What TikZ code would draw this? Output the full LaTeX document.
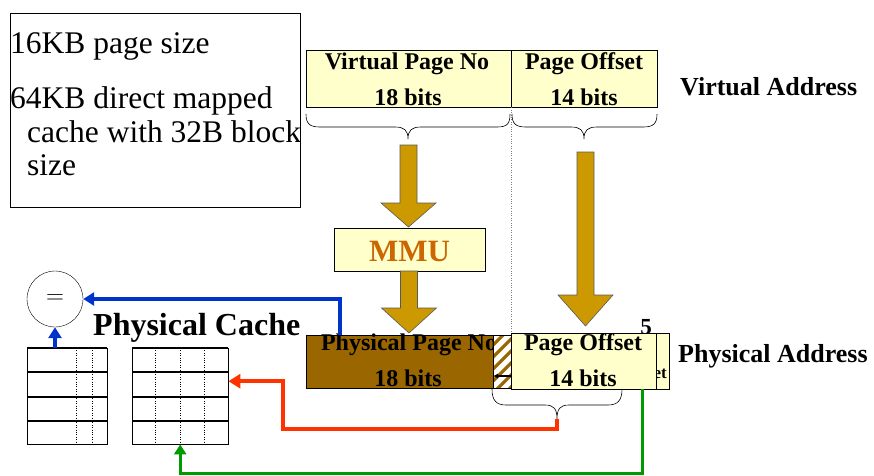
\documentclass[tikz,border=0pt]{standalone}
\usepackage{fontspec}
\setmainfont{Liberation Serif}
\usetikzlibrary{arrows.meta}

\definecolor{paleyellow}{HTML}{FFFFCC}
\definecolor{gold}{HTML}{CC9900}
\definecolor{ppnbrown}{HTML}{996600}
\definecolor{mmuorange}{HTML}{CC6600}
\definecolor{redwire}{HTML}{FF3300}
\definecolor{bluewire}{HTML}{0033CC}
\definecolor{greenwire}{HTML}{009900}

\tikzset{
  field/.style={draw, fill=paleyellow, inner sep=0pt},
  fieldtext/.style={font=\fontsize{24}{24}\selectfont\bfseries, inner sep=0pt, anchor=base},
  addrtext/.style={font=\fontsize{26}{26}\selectfont\bfseries, inner sep=0pt, anchor=base west},
  notetext/.style={font=\fontsize{31.5}{31.5}\selectfont, inner sep=0pt, anchor=base west},
  bigarrow/.style={fill=gold, draw=black!65, line width=0.6pt},
  brace/.style={draw, line width=0.6pt},
  row/.style={line width=1.6pt},
}

\begin{document}
\begin{tikzpicture}[x=1pt,y=-1pt]
\useasboundingbox (0,0) rectangle (874,475);

% notes
\node[draw, minimum width=290, minimum height=194, anchor=north west] (notes) at (10,13) {};
\node[notetext] (note1) at (10,53) {16KB page size};
\node[notetext] (note2) at (10,108) {64KB direct mapped};
\node[notetext] (note3) at (27,142) {cache with 32B block};
\node[notetext] (note4) at (27,175) {size};

% virtual address
\node[field, minimum width=205, minimum height=57, anchor=north west] (vpn) at (306,50) {};
\node[field, minimum width=146, minimum height=57, anchor=north west] (vpo) at (511,50) {};
\node[fieldtext] (vpnname) at (407,69) {Virtual Page No};
\node[fieldtext] (vpnbits) at (408,105) {18 bits};
\node[fieldtext] (vponame) at (584,69) {Page Offset};
\node[fieldtext] (vpobits) at (584,105) {14 bits};
\node[addrtext] (vaddr) at (680,95) {Virtual Address};

\draw[brace] (306,114) .. controls (306,124) and (310,127) .. (320,127) -- (395,127)
  .. controls (404,127) and (408,130) .. (408,139) .. controls (408,130) and (412,127) .. (421,127)
  -- (497,127) .. controls (507,127) and (510,124) .. (510,114);
\draw[brace] (512,114) .. controls (512,124) and (516,127) .. (526,127) -- (571,127)
  .. controls (580,127) and (584,130) .. (584,139) .. controls (584,130) and (588,127) .. (597,127)
  -- (643,127) .. controls (653,127) and (657,124) .. (657,114);

% MMU
\node[field, minimum width=151, minimum height=43, anchor=north west] (mmu) at (334,228) {};
\node[font=\fontsize{31}{31}\selectfont\bfseries, text=mmuorange, inner sep=0pt, anchor=base] (mmuname) at (409.5,261) {MMU};

% big arrows
\foreach \cx/\top/\head/\tip in {408.5/145/203/227, 409/271/308/333, 585.5/152/295/326}
  \filldraw[bigarrow] (\cx-8.5,\top) -- (\cx+8.5,\top) -- (\cx+8.5,\head) -- (\cx+27.5,\head)
    -- (\cx,\tip) -- (\cx-27.5,\head) -- (\cx-8.5,\head) -- cycle;

% physical address
\node[field, minimum width=40, minimum height=56, anchor=north east] (ghost) at (669,333) {};
\node[font=\fontsize{17}{17}\selectfont\bfseries, inner sep=0pt, anchor=base east] (ghosttext) at (667,378) {et};
\node[font=\fontsize{23}{23}\selectfont\bfseries, inner sep=0pt, anchor=base] (five) at (646,334) {5};
\node[draw, fill=ppnbrown, minimum width=187, minimum height=53, inner sep=0pt, anchor=north west] (ppn) at (306,335) {};
\node[fieldtext] (ppnname) at (409,350) {Physical Page No};
\node[fieldtext] (ppnbits) at (408,386) {18 bits};
\begin{scope}
\clip (493,335) rectangle (512,388);
\fill[white] (493,335) rectangle (512,388);
\foreach \k in {0,...,6}
  \draw[ppnbrown, line width=3.2] (493,333+12*\k) -- ++(30,-30);
\end{scope}
\node[draw, minimum width=19, minimum height=53, inner sep=0pt, anchor=north west] (shift) at (493,335) {};
\node[field, minimum width=145, minimum height=56, anchor=north west] (ppo) at (511,333) {};
\node[fieldtext] (pponame) at (583,350) {Page Offset};
\node[fieldtext] (ppobits) at (583,386) {14 bits};
\draw[-{Latex[length=5,width=5]}, line width=1.2pt] (shift.east |- 0,376) -- (shift.west |- 0,376);
\node[addrtext] (paddr) at (678,362) {Physical Address};

\draw[dotted, gray] (vpo.south west) -- (ppo.north west);

\draw[brace] (492,389) .. controls (492,400) and (496,405) .. (506,405) -- (545,405)
  .. controls (554,405) and (557,409) .. (557,419) .. controls (557,409) and (560,405) .. (569,405)
  -- (608,405) .. controls (618,405) and (622,400) .. (622,389);
\coordinate (btip) at (557,419);

% physical cache
\node[font=\fontsize{32}{32}\selectfont\bfseries, inner sep=0pt, anchor=base west] (cachename) at (93,335) {Physical Cache};
\node[circle, draw, minimum size=56, inner sep=0pt, font=\fontsize{28}{28}\selectfont] (cmp) at (55,299) {$=$};
\node[draw, minimum width=80, minimum height=96, anchor=north west] (tagarr) at (27,348) {};
\node[draw, minimum width=96, minimum height=96, anchor=north west] (dataarr) at (132,348) {};
\foreach \y in {348,372,397,421}
{
  \draw[row] (27,\y) -- (107,\y);
  \draw[row] (132,\y) -- (228,\y);
}
\foreach \x in {76,92}
  \draw[dotted] (\x,348) -- (\x,444);
\foreach \x in {155,180,204}
  \draw[dotted] (\x,348) -- (\x,444);

% wires
\coordinate (tagtap) at (340,335);
\draw[bluewire, line width=3.5, -{Triangle[length=11,width=13]}] (tagtap) |- (cmp.east);
\draw[bluewire, line width=3.5, -{Triangle[length=11,width=13]}] (cmp.south |- tagarr.north) -- (cmp.south);
\coordinate (redlow) at (283,429);
\draw[redwire, line width=4, -{Triangle[length=12,width=14]}] (btip) |- (redlow) |- ([yshift=15pt]dataarr.east);
\coordinate (greentap) at (642,389);
\coordinate (greenlow) at (642,473);
\draw[greenwire, line width=3, -{Triangle[length=10,width=12]}] (greentap) -- (greenlow) -| (dataarr.south);

\end{tikzpicture}
\end{document}
